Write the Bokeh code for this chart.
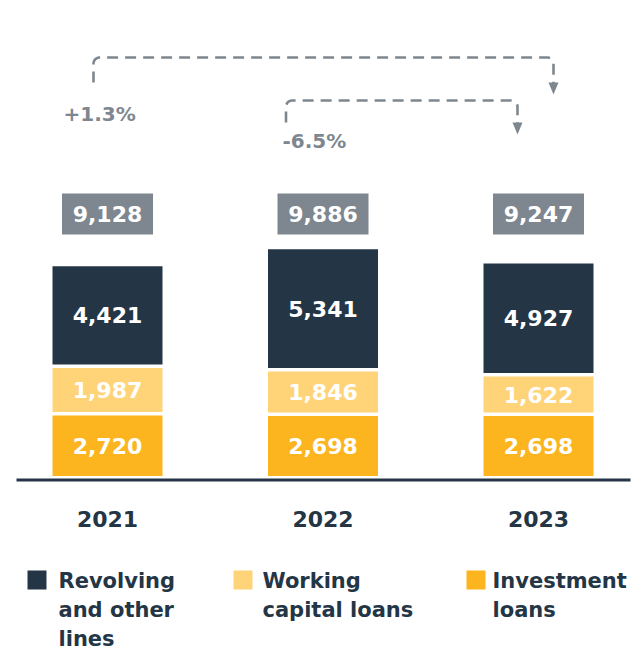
import numpy as np
from bokeh.plotting import figure
from bokeh.models import Range1d
from bokeh.core.properties import value
from bokeh.embed import file_html
from bokeh.resources import INLINE

# ---------------- data ----------------
years = ["2021", "2022", "2023"]
investment = [2720, 2698, 2698]
working_capital = [1987, 1846, 1622]
revolving = [4421, 5341, 4927]
totals = [9128, 9886, 9247]
changes = ["+1.3%", "-6.5%"]          # 2021 -> 2023, 2022 -> 2023
series_labels = ["Revolving\nand other\nlines", "Working\ncapital loans", "Investment\nloans"]

# ---------------- style ----------------
DARK = "#243646"
LIGHT = "#FFD479"
ORANGE = "#FDB51F"
GRAY = "#7E878F"
FONT = value("DejaVu Sans")

W, H = 643, 651
X0, XS = 107.0, 215.5     # px of first bar centre, px per category
Y0, YS = 475.5, 45.0      # px of zero line, value units per px


def X(px):
    return (px - X0) / XS


def Y(py):
    return (Y0 - py) * YS


def cx(i):
    return X0 + XS * i


p = figure(width=W, height=H, output_backend="svg", toolbar_location=None,
           x_range=Range1d(X(0), X(W)), y_range=Range1d(Y(H), Y(0)),
           min_border=0, outline_line_color=None)
p.axis.visible = False
p.grid.visible = False
p.background_fill_color = "white"
p.border_fill_color = "white"

idx = np.arange(len(years))
BW = 110 / XS
GAP = 3.5 * YS
inv = np.array(investment, float)
wc = np.array(working_capital, float)
rv = np.array(revolving, float)

inv_b, inv_t = np.zeros(3), inv
wc_b = inv_t + GAP
wc_t = wc_b + wc
rv_b = wc_t + GAP
rv_t = rv_b + rv

p.vbar(x=idx, width=BW, bottom=inv_b, top=inv_t, fill_color=ORANGE, line_color=None)
p.vbar(x=idx, width=BW, bottom=wc_b, top=wc_t, fill_color=LIGHT, line_color=None)
p.vbar(x=idx, width=BW, bottom=rv_b, top=rv_t, fill_color=DARK, line_color=None)

lab_kw = dict(text_color="white", text_font=FONT, text_font_style="bold",
              text_font_size="22px", text_align="center", text_baseline="middle")
p.text(x=idx, y=(inv_b + inv_t) / 2, text=[f"{v:,}" for v in investment], **lab_kw)
p.text(x=idx, y=(wc_b + wc_t) / 2, text=[f"{v:,}" for v in working_capital], **lab_kw)
p.text(x=idx, y=(rv_b + rv_t) / 2, text=[f"{v:,}" for v in revolving], **lab_kw)

# totals boxes
ty = Y(213.5)
p.rect(x=idx, y=[ty] * 3, width=91, height=41, width_units="screen", height_units="screen",
       fill_color=GRAY, line_color=None)
p.text(x=idx, y=[ty] * 3, text=[f"{v:,}" for v in totals], **lab_kw)

# baseline
p.line(x=[X(16), X(630)], y=[Y(479.5), Y(479.5)], line_color=DARK, line_width=2.8)

# year labels
p.text(x=idx, y=[Y(518)] * 3, text=years, text_color=DARK, text_font=FONT,
       text_font_style="bold", text_font_size="22px", text_align="center",
       text_baseline="middle")


# connectors
def connector(x1, x2, y_start, y_top, y_end, r=6, n=6):
    xs, ys = [x1], [y_start]
    xs.append(x1); ys.append(y_top + r)
    for a in np.linspace(np.pi, np.pi * 1.5, n):
        xs.append(x1 + r + r * np.cos(a)); ys.append(y_top + r + r * np.sin(a))
    xs.append(x2 - r); ys.append(y_top)
    for a in np.linspace(np.pi * 1.5, np.pi * 2, n):
        xs.append(x2 - r + r * np.cos(a)); ys.append(y_top + r + r * np.sin(a))
    xs.append(x2); ys.append(y_end)
    return [X(v) for v in xs], [Y(v) for v in ys]


conns = [
    dict(x1=cx(0) - 14, x2=cx(2) + 15, y_start=82, y_top=57, y_end=84, tip=94, base=82,
         tx=cx(0) - 44, ty=113, label=changes[0]),
    dict(x1=cx(1) - 37, x2=cx(2) - 21, y_start=122, y_top=100, y_end=124, tip=134, base=122,
         tx=cx(1) - 40.5, ty=140, label=changes[1]),
]
for c in conns:
    xs, ys = connector(c["x1"], c["x2"], c["y_start"], c["y_top"], c["y_end"])
    p.line(xs, ys, line_color=GRAY, line_width=2.6, line_dash="11 7")
    p.patch([X(c["x2"] - 5), X(c["x2"] + 5), X(c["x2"])],
            [Y(c["base"]), Y(c["base"]), Y(c["tip"])], fill_color=GRAY, line_color=None)
    p.text(x=[X(c["tx"])], y=[Y(c["ty"])], text=[c["label"]], text_color=GRAY, text_font=FONT,
           text_font_size="20px", text_font_style="bold", text_align="left",
           text_baseline="middle")

# legend
leg_colors = [DARK, LIGHT, ORANGE]
sq_x = [36.5, 242.5, 475.5]
txt_x = [58, 262, 492]
sq_y = 579.5
for lbl, col, sx, tx in zip(series_labels, leg_colors, sq_x, txt_x):
    p.rect(x=[X(sx)], y=[Y(sq_y)], width=19, height=19, width_units="screen",
           height_units="screen", fill_color=col, line_color=None)
    for k, line in enumerate(lbl.split("\n")):
        p.text(x=[X(tx)], y=[Y(sq_y + 1 + 29 * k)], text=[line], text_color=DARK, text_font=FONT,
               text_font_style="bold", text_font_size="21px", text_align="left",
               text_baseline="middle")

open("out.html", "w").write(file_html(p, INLINE))
